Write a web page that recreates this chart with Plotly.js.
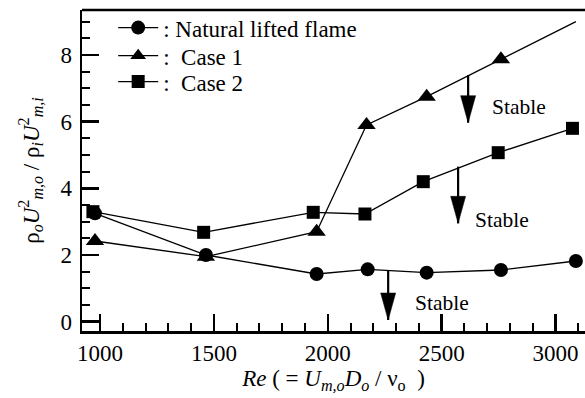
<!DOCTYPE html>
<html>
<head>
<meta charset="utf-8">
<script src="https://cdn.plot.ly/plotly-3.0.1.min.js"></script>
<style>html,body{margin:0;padding:0;background:#fff;overflow:hidden;}</style>
</head>
<body>
<div id="chart" style="width:585px;height:398px;"></div>
<script>
// ---- data ----
const seriesNames = [': Natural lifted flame', ':\u00a0\u00a0Case 1', ':\u00a0\u00a0Case 2'];
const naturalRe = [978, 1465, 1951, 2175, 2434, 2760, 3089];
const naturalVal = [3.25, 2.0, 1.43, 1.57, 1.47, 1.55, 1.82];
const case1Re = [978, 1465, 1951, 2170, 2434, 2760, 3089];
const case1Val = [2.42, 1.95, 2.7, 5.9, 6.75, 7.87, 9.0];
const case2Re = [969, 1455, 1936, 2163, 2419, 2748, 3074];
const case2Val = [3.3, 2.68, 3.28, 3.23, 4.2, 5.07, 5.8];

// "Stable" arrows: x position, tail value, tip value; label position
const arrowRe = [2265, 2572, 2616];
const arrowTail = [1.53, 4.65, 7.40];
const arrowTip = [0.05, 2.95, 5.97];
const labelRe = [2372, 2637, 2712];
const labelVal = [0.56, 3.05, 6.44];
const labelText = ['Stable', 'Stable', 'Stable'];

const xTickVals = [1000, 1500, 2000, 2500, 3000];
const yTickVals = [0, 2, 4, 6, 8];

const FONT = "'Liberation Serif', 'Times New Roman', serif";
const lineStyle = {color: '#000', width: 1.3};

const traces = [
  {x: naturalRe, y: naturalVal, name: seriesNames[0], mode: 'lines+markers', legend: 'legend',
   line: lineStyle, marker: {symbol: 'circle', size: 14, color: '#000'}},
  {x: case1Re, y: case1Val, name: seriesNames[1], mode: 'lines+markers', legend: 'legend2',
   line: lineStyle, marker: {symbol: 'triangle-up', size: [16,16,16,16,16,16,0],
     sizemode: 'diameter', sizeref: 1, opacity: 1, color: '#000', line: {width: 0}}},
  {x: case2Re, y: case2Val, name: seriesNames[2], mode: 'lines+markers', legend: 'legend3',
   line: lineStyle, marker: {symbol: 'square', size: 13, color: '#000'}}
];

const shapes = [
  {type: 'line', xref: 'paper', yref: 'paper', x0: 0, x1: 1, y0: 1, y1: 1,
   line: {color: '#000', width: 2.5}}
];
const annotations = [];
for (let i = 0; i < arrowRe.length; i++) {
  shapes.push({type: 'line', xref: 'x', yref: 'y', x0: arrowRe[i], x1: arrowRe[i],
    y0: arrowTail[i], y1: arrowTip[i], line: {color: '#000', width: 2.2}});
  shapes.push({type: 'path', xref: 'x', yref: 'y', xsizemode: 'pixel', ysizemode: 'pixel',
    xanchor: arrowRe[i], yanchor: arrowTip[i], path: 'M0,0L-7.5,27L7.5,27Z',
    fillcolor: '#000', line: {color: '#000', width: 0.5}});
  annotations.push({x: labelRe[i], y: labelVal[i], xref: 'x', yref: 'y', text: labelText[i],
    showarrow: false, xanchor: 'left', yanchor: 'middle',
    font: {family: FONT, size: 21.5, color: '#000'}});
}

const axisCommon = {
  showline: true, linecolor: '#000', linewidth: 2.5, mirror: false,
  ticks: 'inside', ticklen: 17, tickwidth: 2.5, tickcolor: '#000',
  showgrid: false, zeroline: false,
  tickfont: {family: FONT, size: 23, color: '#000'}
};

function legendAt(yPaper) {
  return {x: 0.062, y: yPaper, xanchor: 'left', yanchor: 'middle', bgcolor: 'rgba(0,0,0,0)',
    itemwidth: 40, font: {family: FONT, size: 23, color: '#000'}};
}

const layout = {
  width: 585, height: 398,
  margin: {l: 82, r: 0, t: 10, b: 67},
  paper_bgcolor: '#fff', plot_bgcolor: '#fff',
  font: {family: FONT, color: '#000'},
  showlegend: true,
  legend: legendAt(0.945),
  legend2: legendAt(0.858),
  legend3: legendAt(0.777),
  xaxis: Object.assign({}, axisCommon, {
    range: [921, 3129], tickvals: xTickVals,
    minor: {ticks: 'inside', ticklen: 8, tickwidth: 2, tickcolor: '#000', dtick: 100, tick0: 1000},
    title: {text: '<i>Re</i> ( = <i>U</i><sub><i>m,o</i></sub><i>D</i><sub><i>o</i></sub> / \u03bd<sub>o</sub>\u00a0\u00a0)',
      font: {family: FONT, size: 23, color: '#000'}, standoff: 2}
  }),
  yaxis: Object.assign({}, axisCommon, {
    range: [-0.28, 9.35], tickvals: yTickVals, ticklabelstandoff: 3,
    minor: {ticks: 'inside', ticklen: 8, tickwidth: 2, tickcolor: '#000', dtick: 0.5, tick0: 0},
    title: {text: '\u03c1<sub><i>o</i></sub><i>U</i><sup>2</sup><sub><i>m,o</i></sub> / \u03c1<sub><i>i</i></sub><i>U</i><sup>2</sup><sub><i>m,i</i></sub>',
      font: {family: FONT, size: 23, color: '#000'}, standoff: 15}
  }),
  shapes: shapes,
  annotations: annotations
};

Plotly.newPlot('chart', traces, layout, {displayModeBar: false, staticPlot: true});
</script>
</body>
</html>
